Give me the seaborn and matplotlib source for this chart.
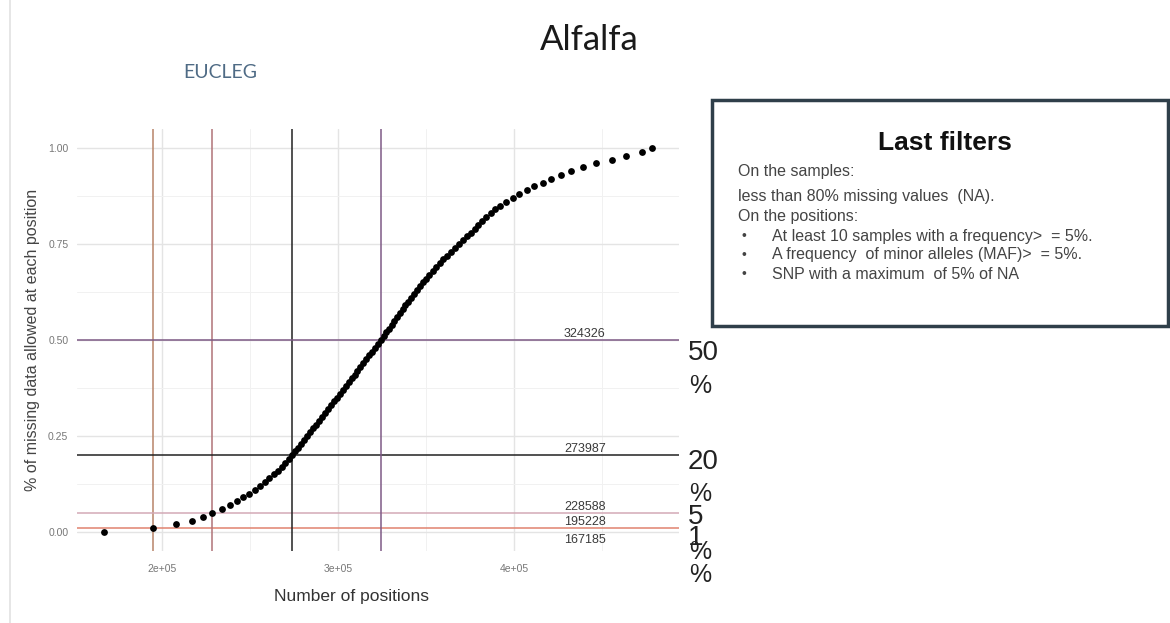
import matplotlib
matplotlib.use("Agg")
import matplotlib.pyplot as plt
import pandas as pd
import seaborn as sns
from matplotlib.patches import Rectangle
from matplotlib.lines import Line2D
from matplotlib.ticker import FuncFormatter, FixedLocator

# Share of missing data allowed at a position (0.00 .. 1.00)
missing_allowed = [
    0.00, 0.01, 0.02, 0.03, 0.04, 0.05, 0.06, 0.07, 0.08, 0.09,
    0.10, 0.11, 0.12, 0.13, 0.14, 0.15, 0.16, 0.17, 0.18, 0.19,
    0.20, 0.21, 0.22, 0.23, 0.24, 0.25, 0.26, 0.27, 0.28, 0.29,
    0.30, 0.31, 0.32, 0.33, 0.34, 0.35, 0.36, 0.37, 0.38, 0.39,
    0.40, 0.41, 0.42, 0.43, 0.44, 0.45, 0.46, 0.47, 0.48, 0.49,
    0.50, 0.51, 0.52, 0.53, 0.54, 0.55, 0.56, 0.57, 0.58, 0.59,
    0.60, 0.61, 0.62, 0.63, 0.64, 0.65, 0.66, 0.67, 0.68, 0.69,
    0.70, 0.71, 0.72, 0.73, 0.74, 0.75, 0.76, 0.77, 0.78, 0.79,
    0.80, 0.81, 0.82, 0.83, 0.84, 0.85, 0.86, 0.87, 0.88, 0.89,
    0.90, 0.91, 0.92, 0.93, 0.94, 0.95, 0.96, 0.97, 0.98, 0.99,
    1.00,
]

# Number of positions kept for each threshold
positions = [
    167185, 195228, 208030, 217110, 223350, 228588, 234130, 238670, 242470, 246040,
    249440, 252850, 255680, 258520, 261070, 263630, 265900, 268160, 270150, 272140,
    273987, 275700, 277420, 279130, 280840, 282540, 284230, 285920, 287600, 289280,
    290960, 292640, 294320, 295990, 297660, 299330, 301000, 302670, 304340, 306010,
    307680, 309350, 311020, 312690, 314350, 316010, 317670, 319330, 320990, 322660,
    324326, 325860, 327390, 328920, 330450, 331990, 333520, 335050, 336580, 338110,
    339640, 341230, 342880, 344520, 346220, 347980, 349800, 351670, 353600, 355580,
    357630, 359670, 361770, 363920, 366140, 368410, 370670, 373000, 375380, 377770,
    379640, 381910, 384180, 386620, 389110, 391840, 395240, 399040, 402780, 406980,
    411290, 416060, 420600, 426440, 432110, 439090, 446300, 455200, 463320, 472220,
    477890,
]

# Highlighted thresholds
cut_levels = [0.01, 0.05, 0.20, 0.50]
cut_positions = [195228, 228588, 273987, 324326]
cut_names = ["1", "5", "20", "50"]
hline_colors = ["#e0836f", "#d3aab6", "#222222", "#7e5a86"]
vline_colors = ["#b88468", "#b07378", "#222222", "#7e5a86"]
# vertical offsets (points) of the big "nn" / "%" labels next to each line
name_offsets = [-7, -3, -5, -9]
pct_offsets = [-34, -28, -28, -33]

# Count labels written on the lines
count_label_levels = [0.50, 0.20, 0.05, 0.01, 0.00]
count_label_values = [324326, 273987, 228588, 195228, 167185]
count_label_x = 440000

x_ticks = [200000, 300000, 400000]
y_ticks = [0.00, 0.25, 0.50, 0.75, 1.00]

sns.set_theme(style="white")
plt.rcParams["font.family"] = ["Liberation Sans", "DejaVu Sans"]

fig = plt.figure(figsize=(11.7, 6.23), dpi=100)
fig.patch.set_facecolor("white")
ax = fig.add_axes([0.0655, 0.1152, 0.5148, 0.678])

df = pd.DataFrame({"positions": positions, "missing": missing_allowed})

# ggplot-like 5% expansion of the data range
x_lo, x_hi = min(positions), max(positions)
x_pad = 0.05 * (x_hi - x_lo)
ax.set_xlim(x_lo - x_pad, x_hi + x_pad)
ax.set_ylim(-0.05, 1.05)

# grid
ax.xaxis.set_major_locator(FixedLocator(x_ticks))
ax.yaxis.set_major_locator(FixedLocator(y_ticks))
ax.xaxis.set_minor_locator(FixedLocator([250000, 350000, 450000]))
ax.yaxis.set_minor_locator(FixedLocator([0.125, 0.375, 0.625, 0.875]))
ax.grid(which="major", color="#e4e4e4", linewidth=1.0)
ax.grid(which="minor", color="#f1f1f1", linewidth=0.7)
ax.set_axisbelow(True)

for lvl, pos, hc, vc in zip(cut_levels, cut_positions, hline_colors, vline_colors):
    ax.axhline(lvl, color=hc, linewidth=1.1, zorder=1)
    ax.axvline(pos, color=vc, linewidth=1.1, zorder=1)

sns.scatterplot(data=df, x="positions", y="missing", ax=ax, color="black",
                s=24, linewidth=0, zorder=3, legend=False)

for lvl, val in zip(count_label_levels, count_label_values):
    va = "top" if lvl == 0 else "bottom"
    dy = -0.004 if lvl == 0 else 0.0
    ax.text(count_label_x, lvl + dy, str(val), ha="center", va=va,
            fontsize=9, color="#3a3a3a", zorder=4)

for lvl, name, d1, d2 in zip(cut_levels, cut_names, name_offsets, pct_offsets):
    ax.annotate(name, xy=(1.0, lvl), xycoords=("axes fraction", "data"),
                xytext=(6.5, d1), textcoords="offset points",
                ha="left", va="center", fontsize=20, color="#222222",
                annotation_clip=False)
    ax.annotate("%", xy=(1.0, lvl), xycoords=("axes fraction", "data"),
                xytext=(7.5, d2), textcoords="offset points",
                ha="left", va="center", fontsize=18, color="#222222",
                annotation_clip=False)

ax.xaxis.set_major_formatter(FuncFormatter(lambda v, p: f"{v:.0e}"))
ax.yaxis.set_major_formatter(FuncFormatter(lambda v, p: f"{v:.2f}"))
ax.tick_params(axis="both", which="both", length=0, labelsize=7.5,
               labelcolor="#777777")
ax.tick_params(axis="x", pad=9)
ax.tick_params(axis="y", pad=6)
for s in ax.spines.values():
    s.set_visible(False)

ax.set_xlabel("Number of positions", fontsize=12.5, color="#333333")
ax.xaxis.set_label_coords(0.457, -0.108)
ax.xaxis.label.set_va("center")
ax.set_ylabel("% of missing data allowed at each position", fontsize=11.5,
              color="#444444")
ax.yaxis.set_label_coords(-0.074, 0.5)
ax.yaxis.label.set_va("center")

# slide titles
fig.text(0.504, 0.935, "Alfalfa", ha="center", va="center", fontsize=25,
         family=["Lato", "DejaVu Sans"], color="#1a1a1a")
fig.text(0.188, 0.883, "EUCLEG", ha="center", va="center", fontsize=14,
         family=["Lato", "DejaVu Sans"], color="#4f6b85")

# slide edge
fig.add_artist(Line2D([0.0085, 0.0085], [0.0, 1.0], transform=fig.transFigure,
                      color="#e2e2e2", linewidth=1.2))

# filter box
fig.add_artist(Rectangle((0.6085, 0.4767), 0.3897, 0.3628,
                         transform=fig.transFigure, fill=True,
                         facecolor="white", edgecolor="#2f3f4a",
                         linewidth=2.5))
fig.text(0.8077, 0.7705, "Last filters", ha="center", va="center",
         fontsize=19, fontweight="bold", color="#111111")

box_lines = [
    ("On the samples:", 172, False),
    ("less than 80% missing values  (NA).", 196, False),
    ("On the positions:", 216, False),
    ("At least 10 samples with a frequency>  = 5%.", 236, True),
    ("A frequency  of minor alleles (MAF)>  = 5%.", 255, True),
    ("SNP with a maximum  of 5% of NA", 274, True),
]
for txt, ypx, bullet in box_lines:
    yf = 1 - ypx / 623
    if bullet:
        fig.text(742 / 1170, yf, "\u2022", ha="left", va="center",
                 fontsize=10, color="#444444")
        fig.text(772 / 1170, yf, txt, ha="left", va="center",
                 fontsize=11.5, color="#444444")
    else:
        fig.text(738 / 1170, yf, txt, ha="left", va="center",
                 fontsize=11.5, color="#444444")

fig.savefig("out.png", dpi=100, facecolor="white")
